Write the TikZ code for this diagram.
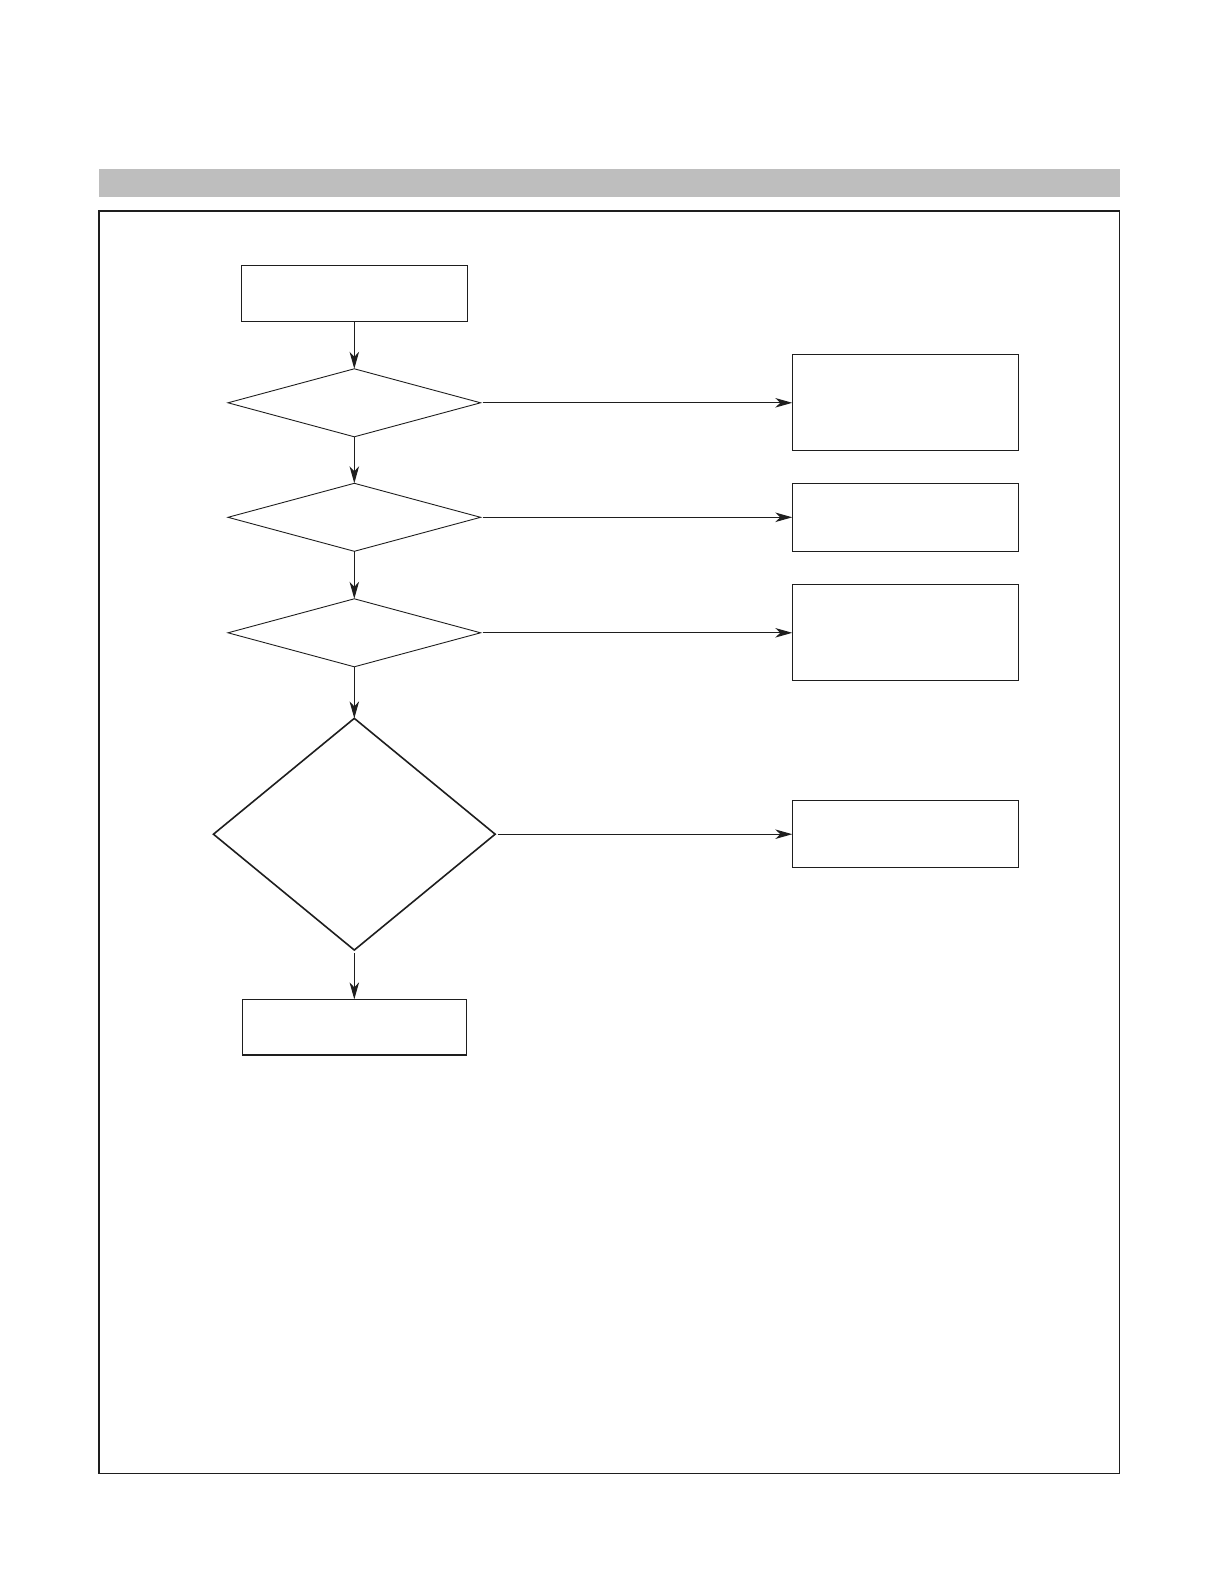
\documentclass[tikz,border=0pt]{standalone}
\usetikzlibrary{shapes.geometric,arrows.meta}
\definecolor{bargray}{RGB}{190,190,190}
\definecolor{ink}{RGB}{30,30,30}
\tikzset{
  boxnode/.style={draw=ink, line width=1.2pt, rectangle, inner sep=0pt, outer sep=0pt},
  smalldia/.style={draw=ink, line width=0.9pt, diamond, inner sep=0pt, outer sep=0pt,
    minimum width=252.6pt, minimum height=68pt, aspect=3.71},
  bigdia/.style={draw=ink, line width=1.6pt, diamond, inner sep=0pt, outer sep=0pt,
    minimum width=281.7pt, minimum height=231.7pt, aspect=1.216},
  flow/.style={draw=ink, line width=1.1pt, -{Stealth[length=17pt,width=9.5pt,inset=5pt]}},
}
\begin{document}
\begin{tikzpicture}[x=1pt,y=-1pt]
\useasboundingbox (0,0) rectangle (1218,1586);
\fill[bargray] (99,169.5) rectangle (1120,197.5);
\draw[ink, line width=1.3pt] (99,211) rectangle (1119.5,1473.5);

\node[boxnode, minimum width=226.4pt, minimum height=56.4pt] (start) at (354.3,293.5) {};
\node[smalldia] (d1) at (354.3,402.8) {};
\node[smalldia] (d2) at (354.3,517.3) {};
\node[smalldia] (d3) at (354.3,632.8) {};
\node[bigdia] (d4) at (354.3,834.2) {};
\node[boxnode, minimum width=224.4pt, minimum height=55.7pt] (end) at (354.3,1027.2) {};

\node[boxnode, minimum width=226pt, minimum height=96pt] (ra) at (905.3,402.8) {};
\node[boxnode, minimum width=226pt, minimum height=68pt] (rb) at (905.3,517.3) {};
\node[boxnode, minimum width=226pt, minimum height=96pt] (rc) at (905.3,632.8) {};
\node[boxnode, minimum width=226pt, minimum height=67pt] (rd) at (905.3,834.2) {};

\draw[flow] (start.south) -- (d1.north);
\draw[flow] (d1.south) -- (d2.north);
\draw[flow] (d2.south) -- (d3.north);
\draw[flow] (d3.south) -- (d4.north);
\draw[flow, shorten <=3pt] (d4.south) -- (end.north);

\draw[flow, shorten <=2.5pt] (d1.east) -- (ra.west);
\draw[flow, shorten <=2.5pt] (d2.east) -- (rb.west);
\draw[flow, shorten <=2.5pt] (d3.east) -- (rc.west);
\draw[flow, shorten <=2.5pt] (d4.east) -- (rd.west);
\end{tikzpicture}
\end{document}
